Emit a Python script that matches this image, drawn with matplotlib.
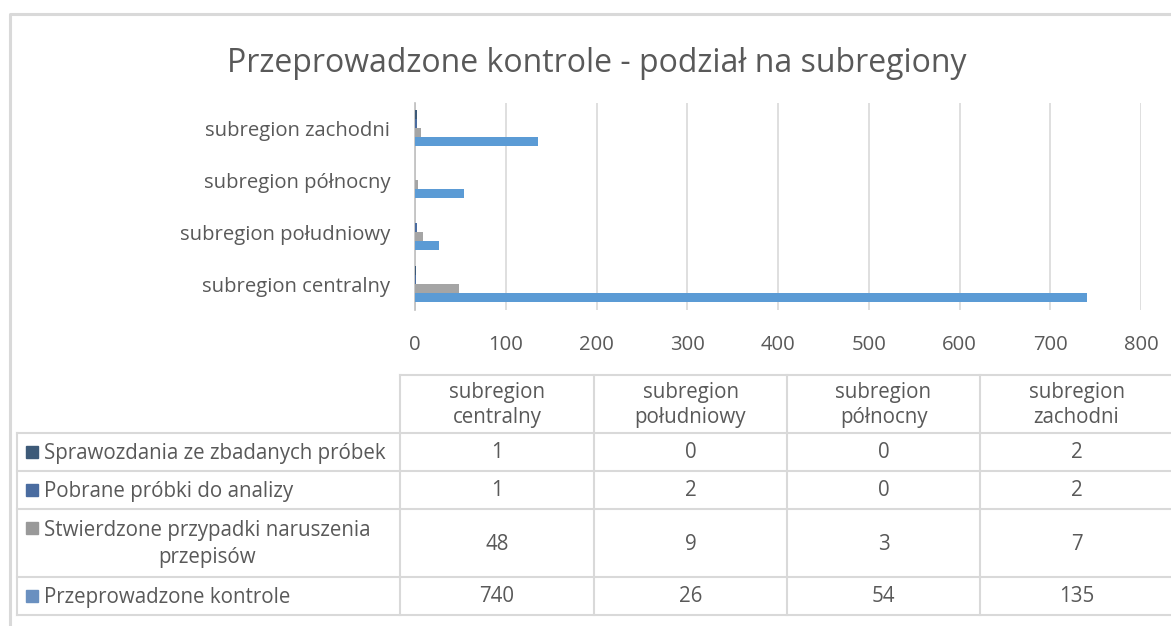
import numpy as np
import matplotlib.pyplot as plt

### Data.

categories = ['subregion centralny', 'subregion południowy', 'subregion północny', 'subregion zachodni']
header_labels = ['subregion\ncentralny', 'subregion\npołudniowy', 'subregion\npółnocny', 'subregion\nzachodni']

sprawozdania = [1, 0, 0, 2]
pobrane = [1, 2, 0, 2]
stwierdzone = [48, 9, 3, 7]
przeprowadzone = [740, 26, 54, 135]

series_names = ['Sprawozdania ze zbadanych próbek',
                'Pobrane próbki do analizy',
                'Stwierdzone przypadki naruszenia\nprzepisów',
                'Przeprowadzone kontrole']
series_values = [sprawozdania, pobrane, stwierdzone, przeprowadzone]
series_colors = ['#3d5a78', '#4a6ca0', '#a5a5a5', '#5b9bd5']
key_colors = ['#3d5a78', '#4a6ca0', '#999999', '#6a90c0']

xticks = [0, 100, 200, 300, 400, 500, 600, 700, 800]

### Figure parameters.

W, H = 1171, 626
plt.rcParams['font.family'] = ['Open Sans', 'DejaVu Sans']
text_color = '#595959'
grid_color = '#d9d9d9'
fs = 14.8

fig = plt.figure(figsize=(W / 100, H / 100), dpi=100)

# pixel helper for the overlay (frame + data table)
ov = fig.add_axes([0, 0, 1, 1])
ov.set_xlim(0, W)
ov.set_ylim(H, 0)
ov.axis('off')

# outer chart frame
ov.plot([10, 10, W + 5], [H + 5, 14, 14], color='#d9d9d9', lw=2.2, solid_capstyle='butt')

ov.text(597, 64, 'Przeprowadzone kontrole - podział na subregiony',
        ha='center', va='center', fontsize=23, color=text_color)

### Bar chart.

left, right = 415, 1141
top, bottom = 102.5, 310
ax = fig.add_axes([left / W, 1 - bottom / H, (right - left) / W, (bottom - top) / H])
ax.patch.set_alpha(0)

y = np.arange(len(categories))
h = 0.174
# bottom bar in each group is the last series of the table
for k, (vals, col) in enumerate(zip(series_values[::-1], series_colors[::-1])):
    ax.barh(y + (k - 1.5) * h, vals, height=h, color=col, zorder=3)

ax.set_xlim(0, 800)
ax.set_ylim(-0.5, len(categories) - 0.5)
ax.set_xticks(xticks)
ax.set_yticks(y)
ax.set_yticklabels(categories)
ax.grid(axis='x', color=grid_color, lw=1.2, zorder=0)
for s in ['top', 'right', 'bottom']:
    ax.spines[s].set_visible(False)
ax.spines['left'].set_color('#bfbfbf')
ax.spines['left'].set_linewidth(1.2)
ax.tick_params(axis='both', length=0, labelsize=14.6, colors=text_color)
ax.tick_params(axis='y', pad=18)
ax.tick_params(axis='x', pad=18)

### Data table.

col_x = [400, 594, 787, 980, 1173]
row_y = [433, 471, 509, 577, 615]
lab_x0 = 17
tab_top = 375
lc = dict(color=grid_color, lw=1.5)

ov.plot([col_x[0], col_x[-1]], [tab_top, tab_top], **lc)
for yy in row_y:
    ov.plot([lab_x0, col_x[-1]], [yy, yy], **lc)
for xx in col_x:
    ov.plot([xx, xx], [tab_top, row_y[-1]], **lc)
ov.plot([lab_x0, lab_x0], [row_y[0], row_y[-1]], **lc)

for j, lab in enumerate(header_labels):
    ov.text((col_x[j] + col_x[j + 1]) / 2, (tab_top + row_y[0]) / 2 + 1, lab,
            ha='center', va='center', fontsize=fs, color=text_color, linespacing=1.3)

for i, (name, vals) in enumerate(zip(series_names, series_values)):
    yc = (row_y[i] + row_y[i + 1]) / 2
    key_y = yc if '\n' not in name else yc - 15
    ov.add_patch(plt.Rectangle((26, key_y - 6), 12, 12, color=key_colors[i]))
    ov.text(44, yc + 1, name, ha='left', va='center', multialignment='center',
            fontsize=fs, color=text_color, linespacing=1.4)
    for j, v in enumerate(vals):
        ov.text((col_x[j] + col_x[j + 1]) / 2, yc + 1, str(v),
                ha='center', va='center', fontsize=fs, color=text_color)

fig.savefig('out.png', dpi=100)
